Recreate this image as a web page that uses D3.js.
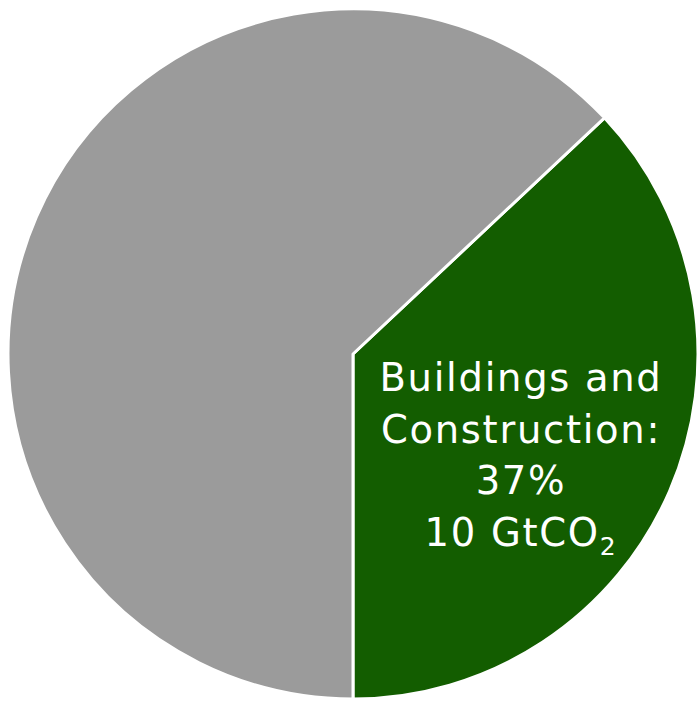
<!DOCTYPE html>
<html>
<head>
<meta charset="utf-8">
<script src="https://cdn.jsdelivr.net/npm/d3@7"></script>
<style>
  body { margin: 0; background: #fff; }
  svg { display: block; }
</style>
</head>
<body>
<svg id="chart"></svg>
<script>
// slice data
const categories = ["Buildings and Construction", "Other"];
const shares = [37, 63];
const colors = ["#135d00", "#9b9b9b"];
const labelLines = ["Buildings and", "Construction:", "37%", "10 GtCO"];

const width = 697, height = 701;
const cx = 353, cy = 354, radius = 345;

const svg = d3.select('#chart')
    .attr('width', width)
    .attr('height', height);

const chart = svg.append('g')
    .attr('transform', `translate(${cx},${cy})`);

// green slice ends straight down, so start where 37% before 180deg
const start = Math.PI - shares[0] / 100 * 2 * Math.PI;
const pie = d3.pie()
    .sort(null)
    .value(d => d)
    .startAngle(start)
    .endAngle(start + 2 * Math.PI);

const arc = d3.arc()
    .innerRadius(0)
    .outerRadius(radius);

chart.selectAll('path')
    .data(pie(shares))
    .join('path')
    .attr('d', arc)
    .attr('fill', (d, i) => colors[i])
    .attr('stroke', '#fff')
    .attr('stroke-width', 3)
    .attr('stroke-linejoin', 'round');

const label = svg.append('text')
    .attr('text-anchor', 'middle')
    .attr('fill', '#fff')
    .style('font-family', '"DejaVu Sans", sans-serif')
    .style('font-size', '38.5px')
    .style('letter-spacing', '1.7px');

labelLines.forEach((t, i) => {
  const line = label.append('tspan')
      .attr('x', 521)
      .attr('y', 391 + i * 51.5)
      .text(t);
  if (i === labelLines.length - 1) {
    line.append('tspan')
        .attr('dy', 9)
        .style('font-size', '25px')
        .text('2');
  }
});
</script>
</body>
</html>
